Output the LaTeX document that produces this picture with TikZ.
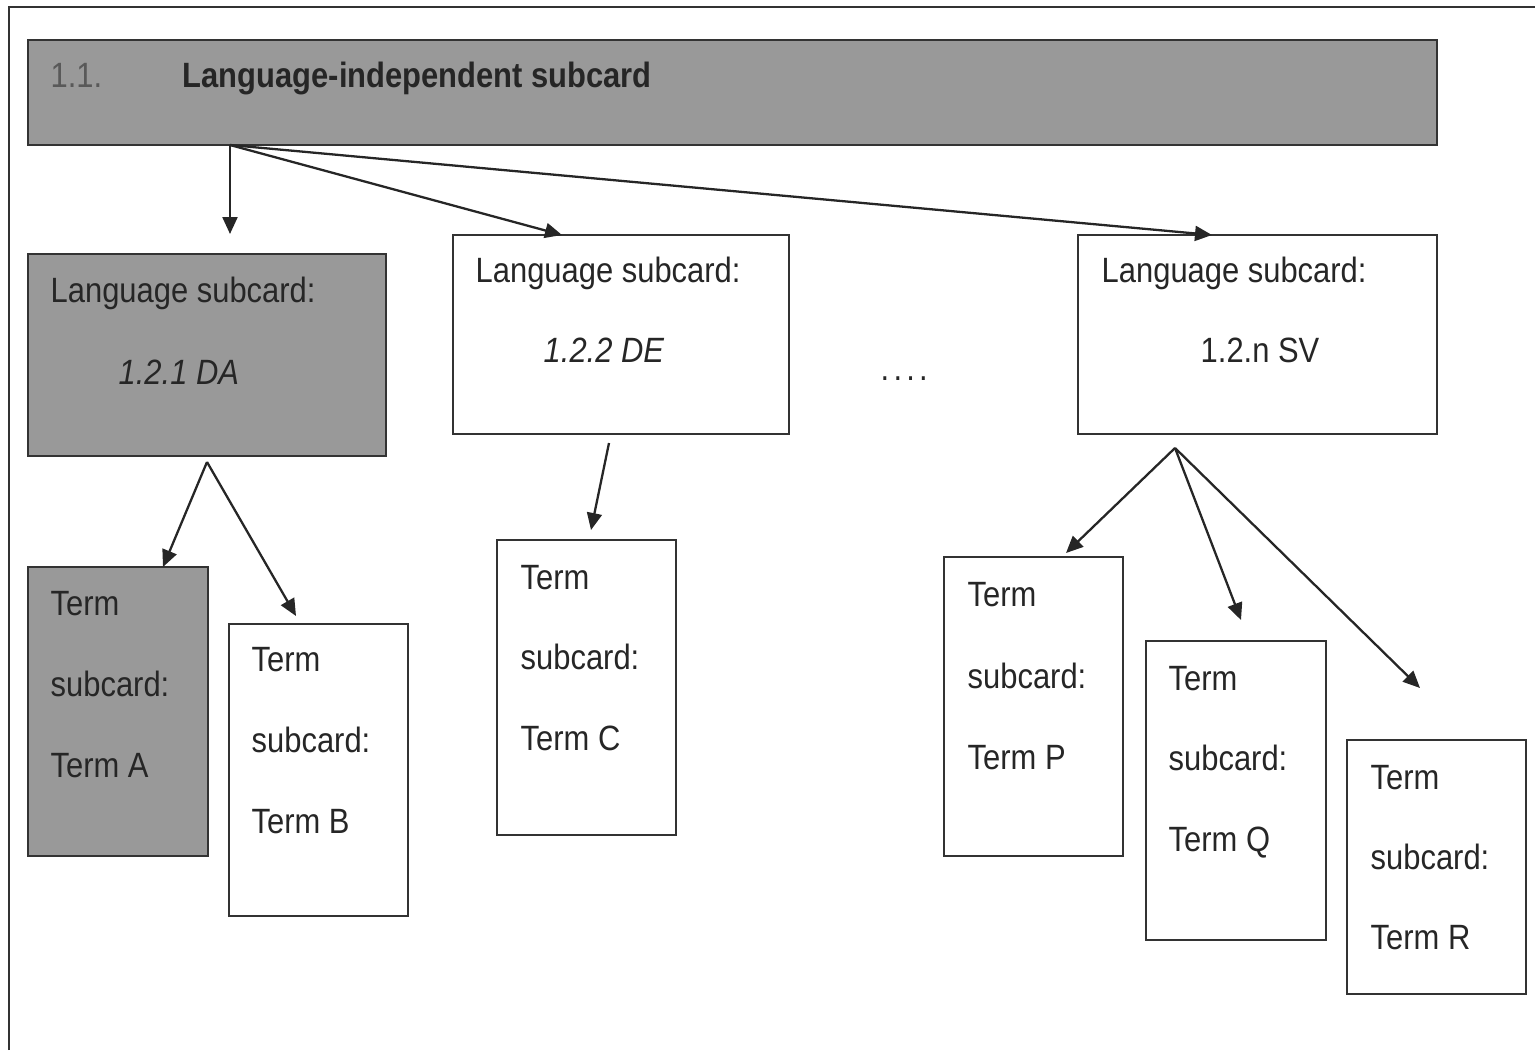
\documentclass[tikz,border=0pt]{standalone}
\usepackage{fontspec}
\setmainfont{Liberation Sans}[FakeStretch=0.88]
\usetikzlibrary{arrows.meta}
\tikzset{
  card/.style ={rectangle, draw=black!80, line width=0.65pt, anchor=north west,
                inner sep=0pt, outer sep=0pt},
  gcard/.style={card, fill=black!40},
  wcard/.style={card, fill=white},
  txt/.style  ={anchor=base west, inner sep=0pt, text=black!85,
                font=\fontsize{10pt}{12pt}\selectfont},
  itxt/.style ={txt, font=\fontsize{10pt}{12pt}\selectfont\itshape},
  arr/.style  ={-{Triangle[length=1.7mm,width=1.5mm]}, line width=0.65pt, draw=black!85},
}

\begin{document}
\begin{tikzpicture}[x=0.1mm, y=-0.1mm]
  \useasboundingbox (0,0) rectangle (1535,1050);
  \draw[line width=0.65pt, black!80] (9,1050) -- (9,7) -- (1535,7);

  % cards
  \node[gcard, minimum width=140.9mm, minimum height=10.5mm] (li)  at (28,40)   {};
  \node[gcard, minimum width=35.8mm,  minimum height=20.2mm] (lda) at (28,254)  {};
  \node[wcard, minimum width=33.6mm,  minimum height=19.9mm] (lde) at (453,235) {};
  \node[wcard, minimum width=35.9mm,  minimum height=19.9mm] (lsv) at (1078,235) {};
  \node[gcard, minimum width=18mm,    minimum height=28.9mm] (ta)  at (28,567)  {};
  \node[wcard, minimum width=17.9mm,  minimum height=29.2mm] (tb)  at (229,624) {};
  \node[wcard, minimum width=17.9mm,  minimum height=29.5mm] (tc)  at (497,540) {};
  \node[wcard, minimum width=17.9mm,  minimum height=29.9mm] (tp)  at (944,557) {};
  \node[wcard, minimum width=18mm,    minimum height=29.9mm] (tq)  at (1146,641) {};
  \node[wcard, minimum width=17.9mm,  minimum height=25.4mm] (tr)  at (1347,740) {};

  % texts
  \node[txt, text=black!65] (li-n) at (50,88) {1.1.};
  \node[txt, font=\fontsize{10pt}{12pt}\selectfont\bfseries] (li-t) at (182,88) {Language-independent subcard};

  \node[txt]  (lda-t) at (50,302)   {Language subcard:};
  \node[itxt] (lda-c) at (118,384)  {1.2.1 DA};
  \node[txt]  (lde-t) at (475,282)  {Language subcard:};
  \node[itxt] (lde-c) at (543,362)  {1.2.2 DE};
  \node[txt]  (lsv-t) at (1101,282) {Language subcard:};
  \node[txt]  (lsv-c) at (1200,362) {1.2.n SV};
  \node[txt]  (dots)  at (880,380)  {.\kern1.2pt.\kern1.2pt.\kern1.2pt.};

  \node[txt] (ta-1) at (50,615)   {Term};
  \node[txt] (ta-2) at (50,696)   {subcard:};
  \node[txt] (ta-3) at (50,777)   {Term A};
  \node[txt] (tb-1) at (251,671)  {Term};
  \node[txt] (tb-2) at (251,752)  {subcard:};
  \node[txt] (tb-3) at (251,833)  {Term B};
  \node[txt] (tc-1) at (520,589)  {Term};
  \node[txt] (tc-2) at (520,669)  {subcard:};
  \node[txt] (tc-3) at (520,750)  {Term C};
  \node[txt] (tp-1) at (967,606)  {Term};
  \node[txt] (tp-2) at (967,688)  {subcard:};
  \node[txt] (tp-3) at (967,769)  {Term P};
  \node[txt] (tq-1) at (1168,690) {Term};
  \node[txt] (tq-2) at (1168,770) {subcard:};
  \node[txt] (tq-3) at (1168,851) {Term Q};
  \node[txt] (tr-1) at (1370,789) {Term};
  \node[txt] (tr-2) at (1370,869) {subcard:};
  \node[txt] (tr-3) at (1370,949) {Term R};

  % arrow ends
  \coordinate (li-out)  at ([xshift=20.2mm]li.south west);
  \coordinate (lda-in)  at ([shift={(20.2mm,2mm)}]lda.north west);
  \coordinate (lde-in)  at ([xshift=10.9mm]lde.north west);
  \coordinate (lsv-in)  at ([xshift=13.4mm]lsv.north west);
  \coordinate (lda-out) at ([yshift=-0.6mm]lda.south);
  \coordinate (lde-out) at ([shift={(15.6mm,-0.9mm)}]lde.south west);
  \coordinate (lsv-out) at ([shift={(9.7mm,-1.4mm)}]lsv.south west);
  \coordinate (ta-in)   at ([xshift=13.5mm]ta.north west);
  \coordinate (tb-in)   at ([shift={(6.7mm,0.8mm)}]tb.north west);
  \coordinate (tc-in)   at ([shift={(9.4mm,1mm)}]tc.north west);
  \coordinate (tp-in)   at ([shift={(12.2mm,0.4mm)}]tp.north west);
  \coordinate (tq-in)   at ([shift={(9.5mm,2.1mm)}]tq.north west);
  \coordinate (tr-in)   at ([shift={(7.3mm,5.2mm)}]tr.north west);

  \draw[arr] (li-out) -- (lda-in);
  \draw[arr] (li-out) -- (lde-in);
  \draw[arr] (li-out) -- (lsv-in);
  \draw[arr] (lda-out) -- (ta-in);
  \draw[arr] (lda-out) -- (tb-in);
  \draw[arr] (lde-out) -- (tc-in);
  \draw[arr] (lsv-out) -- (tp-in);
  \draw[arr] (lsv-out) -- (tq-in);
  \draw[arr] (lsv-out) -- (tr-in);
\end{tikzpicture}
\end{document}
